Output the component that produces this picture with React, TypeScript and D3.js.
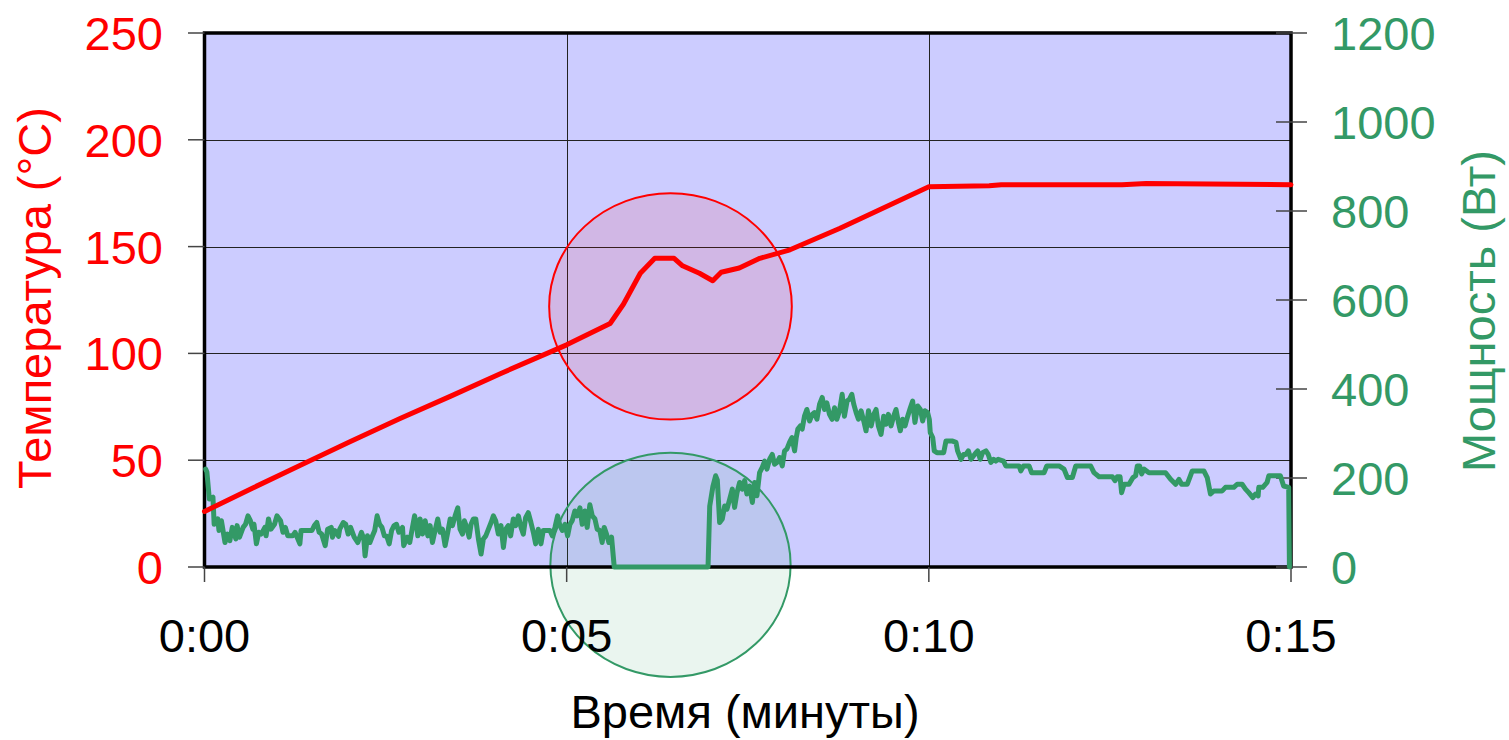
import React from "react";
import * as d3 from "d3";

// Time in seconds, temperature in °C
const tempData: [number, number][] = [
  [0, 26], [20, 31.5], [40, 37], [79, 47.5], [120, 58.5], [162, 69.5], [204, 80], [245, 90.5],
  [300, 104], [336, 114], [347, 123], [361, 137.5], [373, 144.5], [389, 144.5],
  [396, 141], [410, 137.5], [421, 134], [428, 138], [443, 140], [460, 144.5], [485, 148.5],
  [526, 158.5], [600, 178], [650, 178.5], [660, 179], [760, 179], [780, 179.5], [900, 179],
];

// Time in seconds, power in W
const powerData: [number, number][] = [
  [1, 220], [2, 213], [4, 153], [7, 157], [8, 96], [11, 108], [12, 82], [14, 104], [17, 55], [19, 74],
  [21, 59], [23, 89], [26, 63], [27, 93], [29, 67], [32, 89], [34, 96], [36, 115], [38, 104], [40, 85],
  [41, 96], [43, 52], [45, 78], [47, 74], [50, 89], [51, 70], [53, 108], [55, 85], [58, 96], [60, 115],
  [63, 104], [65, 78], [67, 89], [69, 70], [73, 70], [75, 78], [79, 52], [80, 82], [89, 82], [91, 93],
  [93, 100], [95, 78], [97, 74], [100, 48], [102, 85], [105, 89], [106, 67], [108, 82], [111, 69], [112, 85],
  [115, 100], [117, 96], [119, 74], [121, 89], [124, 67], [127, 55], [130, 78], [132, 63], [133, 25], [135, 70],
  [137, 55], [139, 69], [141, 82], [143, 115], [145, 96], [147, 89], [149, 70], [151, 69], [153, 52], [155, 82],
  [157, 93], [159, 96], [161, 78], [164, 89], [165, 48], [168, 67], [170, 55], [172, 85], [174, 115], [175.5, 96],
  [176.7, 70], [178.6, 108], [180.6, 74], [182.8, 104], [185, 70], [186.9, 93], [188.8, 55], [191, 82], [193.2, 108],
  [195.2, 78], [197.1, 85], [199.3, 48], [201.5, 78], [203.5, 108], [205.4, 93], [207.6, 115], [209.8, 133],
  [211.7, 85], [213.7, 74], [215.3, 104], [217.2, 89], [219.2, 67], [220.8, 96], [222.7, 108], [224.7, 108],
  [226.9, 63], [229.1, 29], [231, 63], [233, 70], [235.2, 85], [237.4, 100], [239.3, 115], [241.2, 104],
  [243.4, 74], [245.6, 93], [247.6, 44], [249.5, 85], [251.7, 93], [253.6, 70], [255.8, 108], [257.8, 93],
  [260, 115], [262.2, 89], [264.1, 74], [266, 111], [268.2, 122], [270.4, 100], [272.4, 78], [274.3, 52],
  [276.5, 85], [278.7, 52], [280.6, 82], [283.4, 82], [286.2, 82], [288.1, 70], [290.3, 89], [292.5, 115],
  [294.4, 93], [296.4, 82], [298.6, 96], [300.8, 70], [302.7, 96], [304.6, 104], [306.8, 126], [308.8, 115],
  [311, 133], [312.9, 96], [315.1, 126], [317, 89], [319.2, 140], [321.2, 115], [323.4, 108], [325.3, 85],
  [327.5, 82], [329.4, 55], [331.1, 89], [333, 74], [335, 55], [337.2, 67], [339.4, 0],
  [417.1, 0], [418.5, 137], [421.2, 182], [423.4, 205], [424.8, 195], [426.7, 100], [428.9, 108], [430.9, 137],
  [432.8, 130], [435, 152], [437.2, 175], [439.1, 134], [441.1, 167], [443.3, 190], [445.5, 175], [447.4, 194],
  [449.3, 164], [451.6, 182], [453.8, 145], [455.7, 190], [457.6, 160], [459.8, 212], [462, 224], [464, 238],
  [465.9, 220], [468.1, 242], [470.3, 253], [472.2, 231], [474.2, 235], [476.4, 246], [478.6, 227], [480.5, 261],
  [482.4, 265], [484.6, 280], [486.6, 291], [488.8, 261], [490.2, 291], [491.5, 310], [493.5, 317], [495.1, 310],
  [497, 339], [499, 354], [501.2, 328], [503.4, 343], [505.3, 347], [507.3, 332], [509.5, 366], [511.7, 381],
  [513.6, 354], [515.5, 369], [517.7, 343], [519.9, 332], [521.9, 358], [523.8, 332], [526, 351], [528.2, 388],
  [530.1, 339], [532.3, 373], [534.2, 377], [536.2, 388], [537.8, 366], [539.8, 347], [541.7, 332], [543.9, 351],
  [546.1, 328], [548, 306], [550, 351], [552.2, 317], [554.4, 343], [556.3, 354], [558.2, 317], [560.4, 298],
  [562.6, 339], [564.6, 321], [566.5, 343], [568.7, 317], [570.9, 339], [572.8, 354], [574.8, 325], [576.4, 306],
  [578.3, 332], [580.3, 317], [582.5, 339], [584.7, 358], [586.6, 373], [588.5, 325], [590.8, 362], [593, 354],
  [594.9, 328], [596.8, 351], [599, 347], [600.4, 332], [601.2, 302], [603.2, 291], [604.5, 261], [606.7, 257],
  [612.3, 257], [614.2, 283], [619.7, 283], [622.5, 280], [623.8, 261], [626.6, 242], [628.8, 253], [630.7, 253],
  [632.7, 261], [634.9, 242], [637.1, 250], [639, 257], [640.4, 261], [642.6, 242], [644.5, 257], [647.3, 261],
  [649.2, 253], [651.4, 235], [653.6, 242], [655.5, 238], [657.5, 242], [661.9, 238], [663.8, 227], [674.8, 227],
  [676.2, 216], [678.4, 227], [683.1, 227], [685.1, 212], [695.5, 212], [697.7, 227],
  [707.9, 227], [712, 220], [714.8, 201], [718.9, 201], [721.7, 227], [734.1, 227], [736.8, 212], [741, 203],
  [752, 203], [754.2, 194], [756.1, 203], [758.4, 203], [759.7, 167], [761.7, 186], [765.8, 186], [769.1, 201],
  [771.3, 205], [772.7, 227], [774.6, 227], [776.3, 209], [778.2, 220], [782.3, 212], [796.1, 212], [800.3, 197],
  [804.4, 186], [807.2, 197], [809.4, 186], [814.1, 186], [818.2, 216], [827.8, 216], [830.6, 201], [833.3, 164],
  [836.1, 171], [843, 171], [845.7, 179], [852.6, 179], [855.4, 186], [859.5, 186], [862.3, 175], [865, 167],
  [868.4, 156], [870.6, 164], [872.8, 160], [873.3, 179], [876.6, 179], [880.2, 190], [881.6, 205], [891.2, 205],
  [893.9, 182], [898.1, 179], [898.7, 0],
];

const xTicks = [0, 300, 600, 900];
const tempTicks = [0, 50, 100, 150, 200, 250];
const powerTicks = [0, 200, 400, 600, 800, 1000, 1200];
const tempTitle = "Температура (°C)";
const powerTitle = "Мощность (Вт)";
const xTitle = "Время (минуты)";

// highlight ellipses, in data units [timeSec, temp or power]
const redMark = { t: 386, v: 122, rt: 100.5, rv: 53 };
const greenMark = { t: 386, p: 5, rt: 99.5, rp: 252 };

const fmtTime = (s: number) => `0:${String(Math.round(s / 60)).padStart(2, "0")}`;

export default function App() {
  const L = 204.5, R = 1291, T = 33, B = 567;
  const x = d3.scaleLinear().domain([0, 900]).range([L, R]);
  const yT = d3.scaleLinear().domain([0, 250]).range([B, T]);
  const yP = d3.scaleLinear().domain([0, 1200]).range([B, T]);

  const tempLine = d3.line<[number, number]>().x((d) => x(d[0])).y((d) => yT(d[1]));
  const powerLine = d3.line<[number, number]>().x((d) => x(d[0])).y((d) => yP(d[1]));

  const font = "'Liberation Sans', Arial, sans-serif";
  const green = "#339966";
  const red = "#FF0000";
  const fs = 47;

  const rcx = x(redMark.t), rcy = yT(redMark.v);
  const rrx = x(redMark.t + redMark.rt) - rcx, rry = rcy - yT(redMark.v + redMark.rv);
  const gcx = x(greenMark.t), gcy = yP(greenMark.p);
  const grx = x(greenMark.t + greenMark.rt) - gcx, gry = gcy - yP(greenMark.p + greenMark.rp);

  return (
    <div style={{ position: "absolute", left: 0, top: 0 }}>
      <svg width={1509} height={740} style={{ display: "block" }} fontFamily={font}>
        <rect x={L} y={T} width={R - L} height={B - T} fill="#CCCCFF" />
        {tempTicks.filter((v) => v > 0 && v < 250).map((v) => (
          <line key={"gh" + v} x1={L} x2={R} y1={Math.round(yT(v)) + 0.5} y2={Math.round(yT(v)) + 0.5} stroke="#222" strokeWidth={1} />
        ))}
        {xTicks.filter((v) => v > 0 && v < 900).map((v) => (
          <line key={"gv" + v} x1={Math.round(x(v)) + 0.5} x2={Math.round(x(v)) + 0.5} y1={T} y2={B} stroke="#222" strokeWidth={1} />
        ))}
        <ellipse cx={rcx} cy={rcy} rx={rrx} ry={rry} fill={red} fillOpacity={0.1} stroke={red} strokeWidth={2} />
        <ellipse cx={gcx} cy={gcy} rx={grx} ry={gry} fill={green} fillOpacity={0.1} stroke={green} strokeWidth={2} />
        <rect x={L} y={T} width={R - L} height={B - T} fill="none" stroke="#000" strokeWidth={3.5} />
        {tempTicks.map((v) => (
          <g key={"lt" + v}>
            <line x1={188} x2={L} y1={yT(v)} y2={yT(v)} stroke="#444" strokeWidth={1.5} />
            <text x={163} y={yT(v)} dy="0.36em" textAnchor="end" fontSize={fs} fill={red}>{v}</text>
          </g>
        ))}
        {powerTicks.map((v) => (
          <g key={"rt" + v}>
            <line x1={1276} x2={1307} y1={yP(v)} y2={yP(v)} stroke="#444" strokeWidth={1.5} />
            <text x={1331} y={yP(v)} dy="0.36em" textAnchor="start" fontSize={fs} fill={green}>{v}</text>
          </g>
        ))}
        {xTicks.map((v) => (
          <g key={"xt" + v}>
            <line x1={x(v)} x2={x(v)} y1={B} y2={582} stroke="#444" strokeWidth={1.5} />
            <text x={x(v)} y={652} textAnchor="middle" fontSize={fs} fill="#000">{fmtTime(v)}</text>
          </g>
        ))}
        <path d={powerLine(powerData) || ""} fill="none" stroke={green} strokeWidth={5} strokeLinejoin="round" strokeLinecap="round" />
        <path d={tempLine(tempData) || ""} fill="none" stroke={red} strokeWidth={5} strokeLinejoin="round" strokeLinecap="round" />
        <text x={745} y={728} textAnchor="middle" fontSize={fs} fill="#000">{xTitle}</text>
        <text transform="translate(51,298) rotate(-90)" textAnchor="middle" fontSize={fs} fill={red}>{tempTitle}</text>
        <text transform="translate(1495,311) rotate(-90)" textAnchor="middle" fontSize={fs} fill={green}>{powerTitle}</text>
      </svg>
    </div>
  );
}
